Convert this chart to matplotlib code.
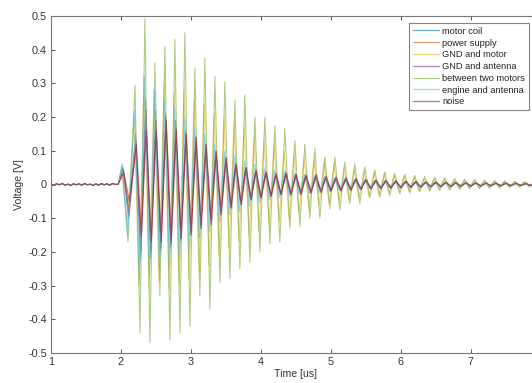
import numpy as np
import matplotlib
matplotlib.use("Agg")
import matplotlib.pyplot as plt
from matplotlib.ticker import FuncFormatter, FixedLocator

plt.rcParams['axes.unicode_minus'] = False
plt.rcParams['font.family'] = ['Liberation Sans', 'DejaVu Sans']

labels = ["motor coil", "power supply", "GND and motor", "GND and antenna",
          "between two motors", "engine and antenna", "noise"]
colors = ["#0072BD", "#D95319", "#EDB120", "#7E2F8E", "#77AC30", "#4DBEEE", "#A2142F"]

# flat part before the pulse (time in us, voltage in V)
baseline_t = [1.00, 1.04, 1.08, 1.12, 1.16, 1.20, 1.24, 1.28, 1.32, 1.36, 1.40, 1.44,
              1.48, 1.52, 1.56, 1.60, 1.64, 1.68, 1.72, 1.76, 1.80, 1.84, 1.88, 1.92, 1.96]
baseline_v = [0.001, -0.002, 0.002, -0.001, 0.003, -0.002, 0.001, -0.003, 0.002, -0.001,
              0.002, -0.002, 0.003, -0.001, 0.001, -0.003, 0.002, -0.002, 0.003, -0.001,
              0.002, -0.002, 0.003, 0.000, 0.001]

# times of the first extrema of the ringing, then the regular half-period
first_t = [2.02, 2.10, 2.20]
ring_start = 2.27
half_period = 0.0714

# extrema of each trace (alternating peaks / troughs)
motor_coil = [0.05, -0.10, 0.15, -0.22, 0.25, -0.22, 0.22, -0.20, 0.21, -0.19,
              0.19, -0.17, 0.16, -0.15, 0.14, -0.13, 0.12, -0.11, 0.10, -0.09,
              0.08, -0.07, 0.065, -0.06, 0.05, -0.045, 0.04, -0.04, 0.035, -0.035,
              0.03, -0.03, 0.035, -0.03, 0.03, -0.025, 0.028, -0.025, 0.025, -0.02,
              0.022, -0.02, 0.02, -0.018, 0.018, -0.016, 0.016, -0.014, 0.014, -0.012,
              0.012, -0.011, 0.011, -0.01, 0.01, -0.009, 0.009, -0.008, 0.008, -0.008,
              0.007, -0.007, 0.007, -0.006, 0.006, -0.006, 0.006, -0.005, 0.005, -0.005,
              0.005, -0.005, 0.004, -0.004, 0.004, -0.004, 0.004, -0.004, 0.004, -0.003,
              0.003, -0.003, 0.003, -0.003]
power_supply = [0.04, -0.07, 0.10, -0.14, 0.15, -0.15, 0.14, -0.15, 0.16, -0.15,
                0.15, -0.14, 0.13, -0.13, 0.12, -0.11, 0.10, -0.10, 0.09, -0.08,
                0.07, -0.065, 0.06, -0.055, 0.05, -0.045, 0.04, -0.04, 0.035, -0.03,
                0.03, -0.028, 0.03, -0.027, 0.027, -0.025, 0.025, -0.022, 0.022, -0.02,
                0.02, -0.018, 0.018, -0.016, 0.016, -0.015, 0.015, -0.013, 0.013, -0.012,
                0.012, -0.011, 0.011, -0.01, 0.01, -0.009, 0.009, -0.008, 0.008, -0.007,
                0.007, -0.007, 0.007, -0.006, 0.006, -0.006, 0.006, -0.005, 0.005, -0.005,
                0.005, -0.005, 0.004, -0.004, 0.004, -0.004, 0.004, -0.003, 0.003, -0.003,
                0.003, -0.003, 0.003, -0.003]
gnd_motor = [0.045, -0.12, 0.20, -0.30, 0.32, -0.31, 0.28, -0.29, 0.30, -0.31,
             0.27, -0.30, 0.28, -0.28, 0.25, -0.26, 0.24, -0.24, 0.21, -0.21,
             0.20, -0.19, 0.18, -0.17, 0.17, -0.155, 0.14, -0.14, 0.13, -0.12,
             0.12, -0.11, 0.10, -0.10, 0.09, -0.085, 0.08, -0.075, 0.075, -0.065,
             0.065, -0.055, 0.06, -0.05, 0.05, -0.045, 0.045, -0.04, 0.04, -0.035,
             0.035, -0.03, 0.03, -0.025, 0.027, -0.022, 0.024, -0.02, 0.021, -0.018,
             0.019, -0.016, 0.017, -0.014, 0.015, -0.013, 0.014, -0.012, 0.013, -0.011,
             0.012, -0.01, 0.011, -0.009, 0.01, -0.008, 0.009, -0.008, 0.008, -0.007,
             0.007, -0.006, 0.006, -0.006]
gnd_antenna = [0.045, -0.09, 0.13, -0.20, 0.22, -0.20, 0.19, -0.19, 0.20, -0.18,
               0.17, -0.16, 0.15, -0.14, 0.13, -0.12, 0.11, -0.10, 0.09, -0.08,
               0.075, -0.065, 0.06, -0.055, 0.05, -0.045, 0.045, -0.04, 0.04, -0.035,
               0.035, -0.03, 0.03, -0.028, 0.028, -0.025, 0.025, -0.022, 0.022, -0.02,
               0.02, -0.018, 0.018, -0.016, 0.016, -0.014, 0.014, -0.013, 0.013, -0.012,
               0.012, -0.011, 0.011, -0.01, 0.01, -0.009, 0.009, -0.008, 0.008, -0.007,
               0.007, -0.007, 0.007, -0.006, 0.006, -0.006, 0.006, -0.005, 0.005, -0.005,
               0.005, -0.004, 0.004, -0.004, 0.004, -0.004, 0.004, -0.003, 0.003, -0.003,
               0.003, -0.003, 0.003, -0.003]
two_motors = [0.055, -0.17, 0.295, -0.44, 0.49, -0.47, 0.36, -0.33, 0.41, -0.46,
              0.43, -0.44, 0.45, -0.42, 0.345, -0.33, 0.375, -0.37, 0.32, -0.29,
              0.305, -0.28, 0.25, -0.25, 0.265, -0.23, 0.20, -0.20, 0.20, -0.175,
              0.173, -0.17, 0.166, -0.13, 0.13, -0.125, 0.12, -0.10, 0.107, -0.10,
              0.082, -0.072, 0.082, -0.075, 0.067, -0.057, 0.062, -0.057, 0.052, -0.04,
              0.043, -0.037, 0.038, -0.033, 0.033, -0.028, 0.03, -0.025, 0.027, -0.022,
              0.024, -0.02, 0.022, -0.018, 0.02, -0.016, 0.018, -0.015, 0.016, -0.013,
              0.015, -0.012, 0.013, -0.011, 0.012, -0.01, 0.011, -0.009, 0.01, -0.008,
              0.009, -0.007, 0.008, -0.007]
engine_antenna = [0.062, -0.15, 0.22, -0.28, 0.32, -0.27, 0.28, -0.25, 0.25, -0.24,
                  0.23, -0.22, 0.20, -0.19, 0.17, -0.16, 0.15, -0.14, 0.12, -0.11,
                  0.10, -0.09, 0.085, -0.08, 0.07, -0.065, 0.06, -0.055, 0.05, -0.045,
                  0.045, -0.04, 0.04, -0.035, 0.035, -0.03, 0.03, -0.027, 0.027, -0.024,
                  0.024, -0.02, 0.02, -0.018, 0.018, -0.016, 0.016, -0.014, 0.014, -0.012,
                  0.012, -0.011, 0.011, -0.01, 0.01, -0.009, 0.009, -0.008, 0.008, -0.007,
                  0.007, -0.007, 0.007, -0.006, 0.006, -0.006, 0.006, -0.005, 0.005, -0.005,
                  0.005, -0.004, 0.004, -0.004, 0.004, -0.004, 0.004, -0.003, 0.003, -0.003,
                  0.003, -0.003, 0.003, -0.003]
noise = [0.035, -0.05, 0.12, -0.15, 0.16, -0.17, 0.16, -0.17, 0.19, -0.17,
         0.16, -0.16, 0.15, -0.15, 0.14, -0.13, 0.12, -0.12, 0.10, -0.09,
         0.08, -0.07, 0.06, -0.06, 0.05, -0.045, 0.04, -0.04, 0.035, -0.035,
         0.03, -0.03, 0.035, -0.03, 0.03, -0.03, 0.028, -0.025, 0.03, -0.025,
         0.025, -0.02, 0.022, -0.02, 0.02, -0.018, 0.018, -0.015, 0.015, -0.013,
         0.013, -0.012, 0.012, -0.011, 0.011, -0.01, 0.01, -0.009, 0.009, -0.008,
         0.008, -0.007, 0.007, -0.007, 0.007, -0.006, 0.006, -0.006, 0.006, -0.005,
         0.005, -0.005, 0.005, -0.004, 0.004, -0.004, 0.004, -0.004, 0.004, -0.003,
         0.003, -0.003, 0.003, -0.003]
# small timing lag of each trace relative to the others (us)
lags = [0.008, 0.012, -0.012, 0.016, 0.0, -0.006, 0.02]

series = [motor_coil, power_supply, gnd_motor, gnd_antenna, two_motors, engine_antenna, noise]

x_ticks = [1, 2, 3, 4, 5, 6, 7]
y_ticks = [-0.5, -0.4, -0.3, -0.2, -0.1, 0, 0.1, 0.2, 0.3, 0.4, 0.5]

fig = plt.figure(figsize=(5.32, 3.83), dpi=100)
ax = fig.add_axes([51/532, 30/383, 490/532, 337/383])

for vals, lab, col, lag in zip(series, labels, colors, lags):
    n = len(vals)
    ring_t = list(ring_start + half_period * np.arange(n - 3))
    t = baseline_t + [x + lag for x in first_t + ring_t]
    v = baseline_v + vals
    ax.plot(t, v, color=col, lw=0.8, alpha=0.6, label=lab,
            solid_joinstyle='round')

ax.set_xlim(1, 8)
ax.set_ylim(-0.5, 0.5)
ax.xaxis.set_major_locator(FixedLocator(x_ticks))
ax.yaxis.set_major_locator(FixedLocator(y_ticks))
ax.yaxis.set_major_formatter(FuncFormatter(lambda v, p: "%g" % round(v, 2)))
ax.tick_params(direction='in', length=3, width=0.7, colors='#555555',
               labelcolor='#333333', labelsize=7.8, top=True, right=True, pad=3)
for s in ax.spines.values():
    s.set_color('#777777')
    s.set_linewidth(0.8)

ax.set_xlabel("Time [us]", fontsize=7.6, color='#333333', labelpad=1)
ax.set_ylabel("Voltage [V]", fontsize=7.6, color='#333333', labelpad=3)

leg = ax.legend(loc='upper right', bbox_to_anchor=(529/532, 1 - 23/383),
                bbox_transform=fig.transFigure, fontsize=6.7, frameon=True,
                fancybox=False, borderpad=0.4, labelspacing=0.3,
                handlelength=2.8, handletextpad=0.4, borderaxespad=0)
leg.get_frame().set_edgecolor('#666666')
leg.get_frame().set_linewidth(0.8)
for line in leg.get_lines():
    line.set_alpha(0.6)
    line.set_linewidth(0.9)
for txt in leg.get_texts():
    txt.set_color('#222222')

fig.savefig("out.png", dpi=100)
